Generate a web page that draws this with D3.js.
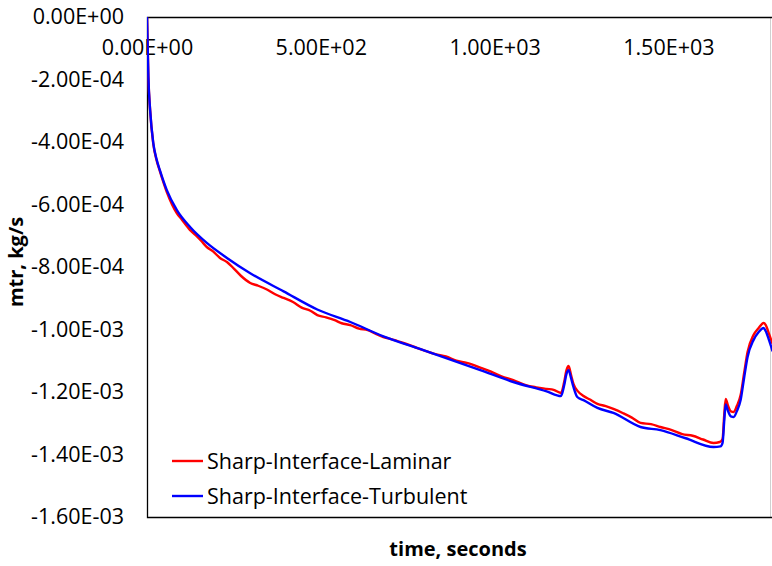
<!DOCTYPE html>
<html>
<head>
<meta charset="utf-8">
<script src="https://cdn.jsdelivr.net/npm/d3@7"></script>
<style>
  body { margin: 0; background: #fff; }
  svg { display: block; }
</style>
</head>
<body>
<div id="chart"></div>
<script>
// data (time in s, mtr in kg/s)
const laminarTime = [0, 2, 4, 9, 18, 27, 37, 57, 86, 100, 124, 140, 155, 172, 190, 210, 230, 250, 270, 297, 320, 345, 370, 393, 420, 445, 470, 490, 515, 540, 560, 585, 610, 635, 660, 680, 710, 740, 770, 795, 830, 860, 890, 920, 959, 990, 1020, 1054, 1090, 1120, 1150, 1170, 1191, 1200, 1207, 1213, 1220, 1227, 1240, 1256, 1276, 1296, 1320, 1342, 1370, 1395, 1420, 1450, 1477, 1510, 1540, 1570, 1600, 1630, 1648, 1656, 1661, 1665, 1672, 1680, 1688, 1697, 1708, 1718, 1728, 1745, 1760, 1774, 1780, 1790, 1800]
const laminarMtr = [0, -1.0e-4, -1.92e-4, -2.98e-4, -4.05e-4, -4.56e-4, -4.93e-4, -5.60e-4, -6.28e-4, -6.48e-4, -6.82e-4, -6.98e-4, -7.15e-4, -7.36e-4, -7.50e-4, -7.71e-4, -7.84e-4, -8.05e-4, -8.28e-4, -8.51e-4, -8.60e-4, -8.72e-4, -8.88e-4, -8.99e-4, -9.12e-4, -9.30e-4, -9.40e-4, -9.54e-4, -9.61e-4, -9.70e-4, -9.80e-4, -9.86e-4, -9.97e-4, -10.02e-4, -10.15e-4, -10.24e-4, -10.33e-4, -10.44e-4, -10.56e-4, -10.66e-4, -10.79e-4, -10.86e-4, -11.00e-4, -11.07e-4, -11.22e-4, -11.35e-4, -11.50e-4, -11.62e-4, -11.78e-4, -11.85e-4, -11.90e-4, -11.93e-4, -12.03e-4, -11.70e-4, -11.30e-4, -11.17e-4, -11.45e-4, -11.74e-4, -11.98e-4, -12.13e-4, -12.25e-4, -12.38e-4, -12.45e-4, -12.54e-4, -12.68e-4, -12.82e-4, -12.99e-4, -13.03e-4, -13.12e-4, -13.22e-4, -13.35e-4, -13.40e-4, -13.52e-4, -13.63e-4, -13.60e-4, -13.50e-4, -12.70e-4, -12.22e-4, -12.45e-4, -12.62e-4, -12.64e-4, -12.45e-4, -12.10e-4, -11.40e-4, -10.72e-4, -10.18e-4, -9.95e-4, -9.79e-4, -9.85e-4, -10.15e-4, -10.46e-4]

const turbulentTime = [0, 2, 4, 9, 18, 27, 37, 57, 86, 124, 172, 230, 297, 393, 490, 585, 680, 795, 959, 1054, 1150, 1191, 1200, 1207, 1213, 1220, 1227, 1238, 1256, 1296, 1342, 1420, 1477, 1550, 1630, 1650, 1656, 1661, 1665, 1672, 1680, 1688, 1697, 1708, 1718, 1728, 1745, 1760, 1774, 1780, 1790, 1800]
const turbulentMtr = [0, -1.0e-4, -1.92e-4, -2.98e-4, -4.03e-4, -4.53e-4, -4.90e-4, -5.54e-4, -6.18e-4, -6.72e-4, -7.23e-4, -7.71e-4, -8.20e-4, -8.78e-4, -9.36e-4, -9.76e-4, -10.22e-4, -10.66e-4, -11.30e-4, -11.68e-4, -11.98e-4, -12.13e-4, -11.80e-4, -11.42e-4, -11.30e-4, -11.55e-4, -11.84e-4, -12.16e-4, -12.26e-4, -12.51e-4, -12.67e-4, -13.12e-4, -13.22e-4, -13.48e-4, -13.76e-4, -13.74e-4, -13.63e-4, -12.90e-4, -12.40e-4, -12.62e-4, -12.78e-4, -12.80e-4, -12.62e-4, -12.26e-4, -11.55e-4, -10.88e-4, -10.34e-4, -10.08e-4, -9.95e-4, -10.05e-4, -10.35e-4, -10.70e-4]

const xTicks = [0, 500, 1000, 1500]
const yTicks = [0, -2e-4, -4e-4, -6e-4, -8e-4, -1e-3, -1.2e-3, -1.4e-3, -1.6e-3]
const seriesNames = ["Sharp-Interface-Laminar", "Sharp-Interface-Turbulent"]
const seriesColors = ["#ff0000", "#0000ff"]

const width = 772, height = 566
const plotLeft = 147, plotTop = 17, plotBottom = 517, plotRight = 772.6
const fontSize = 21.5

const svg = d3.select("#chart").append("svg")
    .attr("width", width)
    .attr("height", height)
    .attr("font-family", "'Open Sans', sans-serif")

const x = d3.scaleLinear().domain([0, 1800]).range([plotLeft, plotRight])
const y = d3.scaleLinear().domain([0, -1.6e-3]).range([plotTop, plotBottom])

// exponent style labels like 5.00E+02
const sci = v => {
  if (v === 0) return "0.00E+00"
  const e = Math.floor(Math.log10(Math.abs(v)) + 1e-9)
  const m = v / Math.pow(10, e)
  const es = (e < 0 ? "-" : "+") + String(Math.abs(e)).padStart(2, "0")
  return m.toFixed(2) + "E" + es
}

svg.append("clipPath").attr("id", "clip")
  .append("rect").attr("x", plotLeft).attr("y", plotTop - 2).attr("width", width - plotLeft).attr("height", plotBottom - plotTop + 4)

// plot frame
svg.append("line").attr("x1", 770.5).attr("x2", 770.5).attr("y1", plotTop).attr("y2", plotBottom)
    .attr("stroke", "#d0d0d0")
svg.append("path")
    .attr("d", `M${width},${plotTop + 0.5}H${plotLeft + 0.5}V${plotBottom + 0.5}H${width}`)
    .attr("fill", "none").attr("stroke", "#000").attr("stroke-width", 1.3)

// y axis labels
const yAxis = d3.axisLeft(y).tickValues(yTicks).tickFormat(sci).tickSize(0).tickPadding(23)
svg.append("g").attr("transform", `translate(${plotLeft},0)`).call(yAxis)
  .call(g => g.select(".domain").remove())
  .selectAll("text").attr("font-size", fontSize).attr("fill", "#000").attr("font-family", "'Open Sans', sans-serif")

// x axis labels sit inside the plot below the top line
const xAxis = d3.axisBottom(x).tickValues(xTicks).tickFormat(sci).tickSize(0).tickPadding(23)
svg.append("g").attr("transform", `translate(0,${plotTop})`).call(xAxis)
  .call(g => g.select(".domain").remove())
  .selectAll("text").attr("font-size", fontSize).attr("fill", "#000").attr("font-family", "'Open Sans', sans-serif")

// series
const series = [
  laminarTime.map((t, i) => [t, laminarMtr[i]]),
  turbulentTime.map((t, i) => [t, turbulentMtr[i]])
]
const line = d3.line().x(d => x(d[0])).y(d => y(d[1])).curve(d3.curveMonotoneX)

svg.append("g").attr("clip-path", "url(#clip)")
  .selectAll("path").data(series).join("path")
    .attr("d", line)
    .attr("fill", "none")
    .attr("stroke", (d, i) => seriesColors[i])
    .attr("stroke-width", 2.4)
    .attr("stroke-linejoin", "round")

// legend
const leg = svg.append("g").selectAll("g").data(seriesNames).join("g")
    .attr("transform", (d, i) => `translate(172,${461 + i * 35})`)
leg.append("line").attr("x1", 0).attr("x2", 31)
    .attr("stroke", (d, i) => seriesColors[i]).attr("stroke-width", 2.4)
leg.append("text").attr("x", 35).attr("dy", "0.35em")
    .attr("font-size", fontSize).text(d => d)

// axis titles
svg.append("text")
    .attr("transform", "translate(23,262) rotate(-90)")
    .attr("text-anchor", "middle")
    .attr("font-size", 20).attr("font-weight", "bold")
    .text("mtr, kg/s")
svg.append("text")
    .attr("x", 458).attr("y", 556)
    .attr("text-anchor", "middle")
    .attr("font-size", 20).attr("font-weight", "bold")
    .text("time, seconds")
</script>
</body>
</html>
